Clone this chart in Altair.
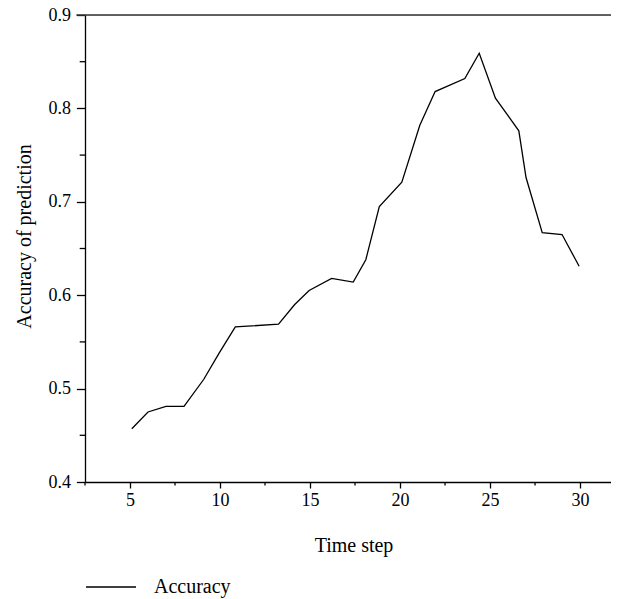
import altair as alt
import pandas as pd

# Data
time_step = [5.1, 6.0, 7.0, 8.0, 9.1, 9.95, 10.85, 13.25, 14.15, 14.95, 16.2, 17.4, 18.1,
             18.85, 20.1, 21.1, 21.95, 23.6, 24.4, 25.3, 26.6, 27.0, 27.9, 29.0, 29.95]
accuracy = [0.457, 0.475, 0.481, 0.481, 0.510, 0.538, 0.566, 0.569, 0.590, 0.605, 0.618,
            0.614, 0.638, 0.695, 0.721, 0.782, 0.818, 0.832, 0.859, 0.811, 0.776, 0.726,
            0.667, 0.665, 0.631]
series_name = ["Accuracy"]
x_ticks = [5, 10, 15, 20, 25, 30]
x_minor = [2.5, 7.5, 12.5, 17.5, 22.5, 27.5]
y_ticks = [0.4, 0.5, 0.6, 0.7, 0.8, 0.9]
y_minor = [0.45, 0.55, 0.65, 0.75, 0.85]
x_domain = [2.5, 31.72]
y_domain = [0.4, 0.9]

W, H = 526, 467
FONT = "Liberation Serif"

df = pd.DataFrame({"t": time_step, "acc": accuracy, "series": series_name * len(time_step)})
xs = alt.Scale(domain=x_domain, nice=False, zero=False)
ys = alt.Scale(domain=y_domain, nice=False, zero=False)

x_axis = alt.Axis(
    values=x_ticks, title="Time step", format="d", tickSize=6,
    labelPadding=3, titleBaseline="alphabetic", titleY=69,
    titleX=268.5, titleAlign="center", labelFont=FONT)
y_axis = alt.Axis(
    values=y_ticks, title="Accuracy of prediction", format=".1f", tickSize=8.6,
    labelPadding=6, titleAngle=-90, titleBaseline="alphabetic",
    titleAlign="center", titleX=-54.5, titleY=221, labelFont=FONT)

line = alt.Chart(df).mark_line(strokeWidth=1.3, clip=False).encode(
    x=alt.X("t:Q", scale=xs, axis=x_axis),
    y=alt.Y("acc:Q", scale=ys, axis=y_axis),
    color=alt.Color("series:N", scale=alt.Scale(range=["black"]), legend=alt.Legend(
        title=None, orient="none", legendX=0, legendY=546,
        symbolType="stroke", symbolSize=2500, symbolStrokeWidth=1.3,
        labelFont=FONT, labelFontSize=20, labelColor="black", labelOffset=17,
        padding=0)),
)

top_rule = alt.Chart(pd.DataFrame({"v": [y_domain[1]]})).mark_rule(
    color="#333333", strokeWidth=1.6).encode(
    y=alt.Y("v:Q", scale=ys, axis=y_axis), x=alt.value(-8.6), x2=alt.value(W))

xminor = alt.Chart(pd.DataFrame({"m": x_minor})).mark_rule(
    color="black", strokeWidth=1.3).encode(
    x=alt.X("m:Q", scale=xs, axis=x_axis), y=alt.value(H), y2=alt.value(H + 3.5))

yminor = alt.Chart(pd.DataFrame({"m": y_minor})).mark_rule(
    color="black", strokeWidth=1.3).encode(
    y=alt.Y("m:Q", scale=ys, axis=y_axis), x=alt.value(-5.3), x2=alt.value(0))

chart = alt.layer(line, top_rule, xminor, yminor).properties(
    width=W, height=H,
    autosize=alt.AutoSizeParams(type="none"),
    padding={"left": 77, "top": 7, "right": 0, "bottom": 116},
).configure_view(stroke=None).configure(background="white").configure_axis(
    labelFont=FONT, labelFontSize=18, labelColor="black",
    titleFont=FONT, titleFontSize=20, titleFontWeight="normal", titleColor="black",
    tickColor="black", tickWidth=1.3, domainColor="black", domainWidth=1.3,
    grid=False,
)

chart.save("out.html", embed_options={"renderer": "svg", "actions": False})
